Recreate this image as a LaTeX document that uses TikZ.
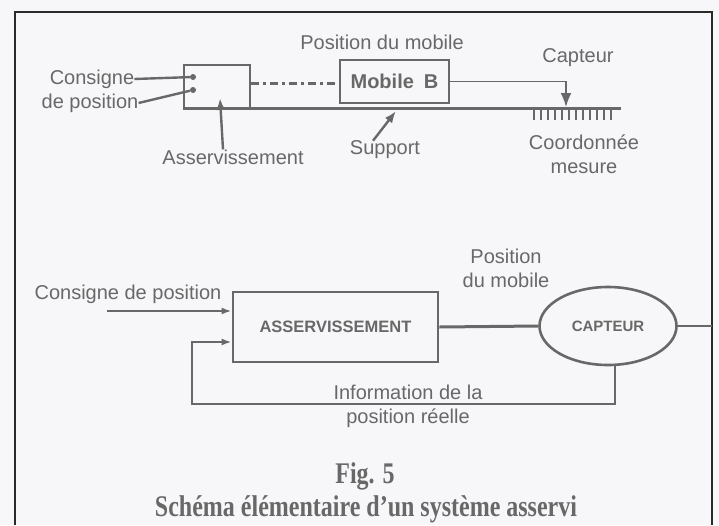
\documentclass[tikz,border=0pt]{standalone}
\usepackage{fontspec}
\setmainfont{Liberation Serif}
\setsansfont{Liberation Sans}
\usetikzlibrary{shapes.geometric,arrows.meta}
\definecolor{ink}{HTML}{686868}
\definecolor{framecol}{HTML}{2A2A2A}
\definecolor{paper}{HTML}{F7F7F9}
\begin{document}
\begin{tikzpicture}[
                        x=1pt, y=-1pt,
                        >={Latex[length=12pt,width=9pt]},
                        every node/.style={text=ink, font=\sffamily\fontsize{20}{24}\selectfont},
                        txt/.style={align=center, inner sep=0pt},
                        bloc/.style={rectangle, draw=ink, line width=2.8pt, inner sep=0pt},
                        fil/.style={draw=ink, line width=2.4pt},
                        pin/.style={circle, fill=ink, minimum size=6pt, inner sep=0pt},
                        capt/.style={font=\rmfamily\bfseries\fontsize{24}{28}\selectfont, inner sep=0pt, anchor=base}
                    ]
                    \fill[paper] (0,0) rectangle (719,525);
                    \useasboundingbox (0,0) rectangle (719,525);
                    \draw[framecol, line width=2.2pt] (15,525) -- (15,12) -- (712,12) -- (712,525);

                    % Top sketch
                    \node [txt] (consA) at (92,79) {Consigne};
                    \node [txt] (consB) at (90,103) {de position};
                    \node [pin] (pinA) at (193,77) {};
                    \node [pin] (pinB) at (193,90) {};
                    \node [bloc, minimum width=66pt, minimum height=44pt] (smallbox) at (217,87) {};
                    \node [bloc, minimum width=109pt, minimum height=43pt, font=\sffamily\bfseries\fontsize{20}{24}\selectfont] (mobile) at (394.5,81.5) {Mobile\hspace{0.5em}B};
                    \node [txt] (posLbl) at (382,42) {Position du mobile};
                    \node [txt] (captLbl) at (578,58) {Capteur};
                    \node [txt] (coordLbl) at (584,154) {Coordonnée\\mesure};
                    \node [txt] (asLbl) at (233,157) {Asservissement};
                    \node [txt] (supLbl) at (385,150) {Support};
                    \coordinate (railL) at (183,108);
                    \coordinate (railR) at (621,108);
                    \coordinate (sensTip) at (566,107);
                    \coordinate (asTip) at (220,98);
                    \coordinate (supTip) at (396,111);

                    \draw [fil] (consA.east) -- (pinA);
                    \draw [fil] (consB.east) -- (pinB);
                    \draw [fil, line width=3pt, dash pattern=on 8pt off 4pt on 3pt off 4pt] (smallbox.east |- 0,83) -- (mobile.west |- 0,83);
                    \draw [fil, line width=3pt] (railL) -- (railR);
                    \foreach \t in {534,541,...,611}
                        \draw [ink, line width=2pt] (\t,110) -- (\t,120);
                    \draw [fil, line width=1.8pt, ->, >={Latex[length=14pt,width=11pt]}] (mobile.east) -| (sensTip);
                    \draw [fil, ->] ([xshift=-10pt]asLbl.north) -- (asTip);
                    \draw [fil, ->] ([xshift=-12pt]supLbl.north) -- (supTip);

                    % Blocks
                    \node [txt] (consC) at (128,294) {Consigne de position};
                    \node [bloc, minimum width=205pt, minimum height=70pt, font=\sffamily\bfseries\fontsize{16.5}{20}\selectfont] (asv) at (335.5,327) {ASSERVISSEMENT};
                    \node [ellipse, draw=ink, line width=2.6pt, minimum width=137pt, minimum height=78pt, inner sep=0pt, font=\sffamily\bfseries\fontsize{15}{18}\selectfont] (cap) at (608,326) {CAPTEUR};
                    \node [txt] (posB) at (506,268) {Position\\du mobile};
                    \node [txt] (infoLbl) at (408,406) {Information de la\\position réelle};
                    \coordinate (in0) at (107,311);
                    \coordinate (fbB) at (192,404);
                    \coordinate (outR) at (712,326);

                    % Connections
                    \draw [fil, ->, >={Latex[length=10pt,width=7pt]}] (in0) -- ([yshift=16pt]asv.west);
                    \draw [fil, line width=3pt] (asv.east) -- (cap.west);
                    \draw [fil] (cap.east) -- (outR);
                    \draw [fil, ->, >={Latex[length=10pt,width=7pt]}] (cap.-80) |- (fbB) |- ([yshift=-15pt]asv.west);

                    % Caption
                    \node [capt] (figNo) at (365,483) {\scalebox{1}[1.25]{Fig. 5}};
                    \node [capt] (figTitle) at (366,516) {\scalebox{1}[1.25]{Schéma élémentaire d’un système asservi}};
                \end{tikzpicture}
\end{document}
